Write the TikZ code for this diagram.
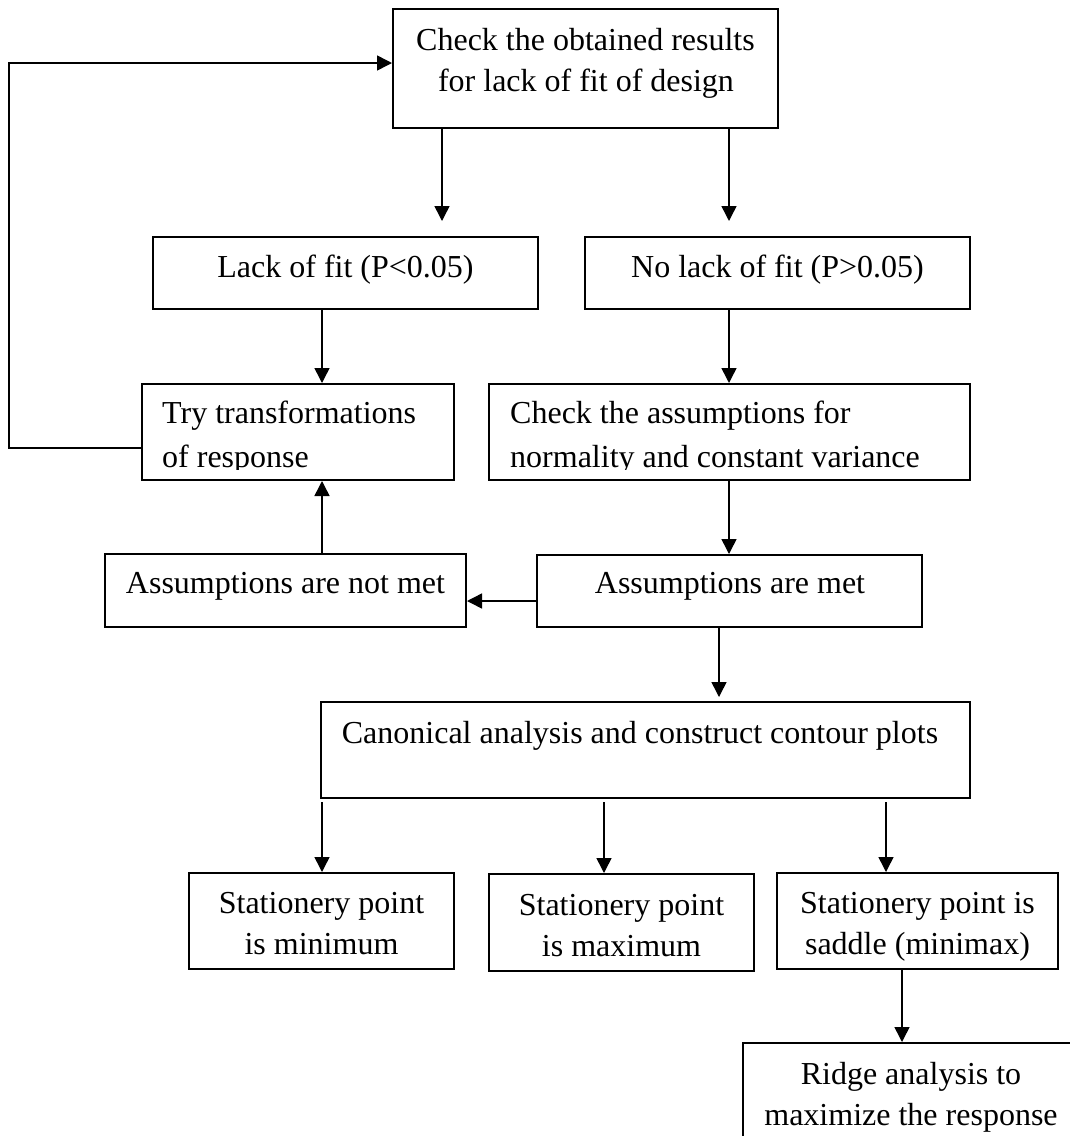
\documentclass[tikz,border=0pt]{standalone}
\usepackage{fontspec}
\setmainfont{Liberation Serif}
\usetikzlibrary{arrows.meta}
\begin{document}
\begin{tikzpicture}[x=1pt,y=-1pt,
  box/.style={draw, line width=2pt, inner sep=0pt},
  txt/.style={inner sep=0pt, anchor=base, font=\fontsize{32}{41}\selectfont},
  ltxt/.style={txt, anchor=base west},
  arr/.style={line width=1.5pt, -{Triangle[length=15pt,width=15pt]}},
]
\useasboundingbox (0,0) rectangle (1070,1136);
\fill[white] (0,0) rectangle (1070,1136);
\clip (0,0) rectangle (1070,1136);

% boxes
\node[box, minimum width=385pt, minimum height=119pt] (b1) at (585.5,68.5) {};
\node[box, minimum width=385pt, minimum height=72pt] (b2) at (345.5,273) {};
\node[box, minimum width=385pt, minimum height=72pt] (b3) at (777.5,273) {};
\node[box, minimum width=312pt, minimum height=96pt] (b4) at (298,432) {};
\node[box, minimum width=481pt, minimum height=96pt] (b5) at (729.5,432) {};
\node[box, minimum width=361pt, minimum height=73pt] (b6) at (285.5,590.5) {};
\node[box, minimum width=385pt, minimum height=72pt] (b7) at (729.5,591) {};
\node[box, minimum width=649pt, minimum height=96pt] (b8) at (645.5,750) {};
\node[box, minimum width=265pt, minimum height=96pt] (b9) at (321.5,921) {};
\node[box, minimum width=265pt, minimum height=97pt] (b10) at (621.5,922.5) {};
\node[box, minimum width=281pt, minimum height=96pt] (b11) at (917.5,921) {};
\node[box, minimum width=337pt, minimum height=107pt] (b12) at (911.5,1096.5) {};

% texts
\node[txt] (t1a) at (585.5,50) {Check the obtained results};
\node[txt] (t1b) at (586,91) {for lack of fit of design};
\node[txt] (t2) at (345.5,277) {Lack of fit (P<0.05)};
\node[txt] (t3) at (777.5,277) {No lack of fit (P>0.05)};
\node[ltxt] (t4a) at (162,423) {Try transformations};
\begin{scope}
\clip (142,384) rectangle (454,469);
\node[ltxt] (t4b) at (162,467) {of response};
\end{scope}
\node[ltxt] (t5a) at (510,423) {Check the assumptions for};
\begin{scope}
\clip (489,384) rectangle (970,469);
\node[ltxt] (t5b) at (510,467) {normality and constant variance};
\end{scope}
\node[txt] (t6) at (285.5,593) {Assumptions are not met};
\node[txt] (t7) at (730,593) {Assumptions are met};
\node[txt] (t8) at (640,743) {Canonical analysis and construct contour plots};
\node[txt] (t9a) at (321.5,913) {Stationery point};
\node[txt] (t9b) at (321.5,954) {is minimum};
\node[txt] (t10a) at (621.5,915) {Stationery point};
\node[txt] (t10b) at (621.5,956) {is maximum};
\node[txt] (t11a) at (917.5,913) {Stationery point is};
\node[txt] (t11b) at (917.5,954) {saddle (minimax)};
\node[txt] (t12a) at (911,1084) {Ridge analysis to};
\node[txt] (t12b) at (911,1125) {maximize the response};

% helper coordinates
\coordinate (xa) at (442,0);
\coordinate (xb) at (729,0);
\coordinate (xc) at (322,0);
\coordinate (xd) at (719,0);
\coordinate (xe) at (604,0);
\coordinate (xf) at (886,0);
\coordinate (xg) at (902,0);
\coordinate (yh) at (0,601);
\coordinate (yi) at (0,63);
\coordinate (yj) at (0,448);
\coordinate (fbx) at (9,0);

% connectors
\draw[arr, shorten >=15pt] (b1.south -| xa) -- (b2.north -| xa);
\draw[arr, shorten >=15pt] (b1.south -| xb) -- (b3.north -| xb);
\draw[arr] (b2.south -| xc) -- (b4.north -| xc);
\draw[arr] (b3.south -| xb) -- (b5.north -| xb);
\draw[arr] (b5.south -| xb) -- (b7.north -| xb);
\draw[arr] (b7.west |- yh) -- (b6.east |- yh);
\draw[arr] (b6.north -| xc) -- (b4.south -| xc);
\draw[arr] (b4.west |- yj) -- (fbx |- yj) -- (fbx |- yi) -- (b1.west |- yi);
\draw[arr, shorten >=4pt] (b7.south -| xd) -- (b8.north -| xd);
\draw[arr, shorten <=3pt] (b8.south -| xc) -- (b9.north -| xc);
\draw[arr, shorten <=3pt] (b8.south -| xe) -- (b10.north -| xe);
\draw[arr, shorten <=3pt] (b8.south -| xf) -- (b11.north -| xf);
\draw[arr] (b11.south -| xg) -- (b12.north -| xg);
\end{tikzpicture}
\end{document}
